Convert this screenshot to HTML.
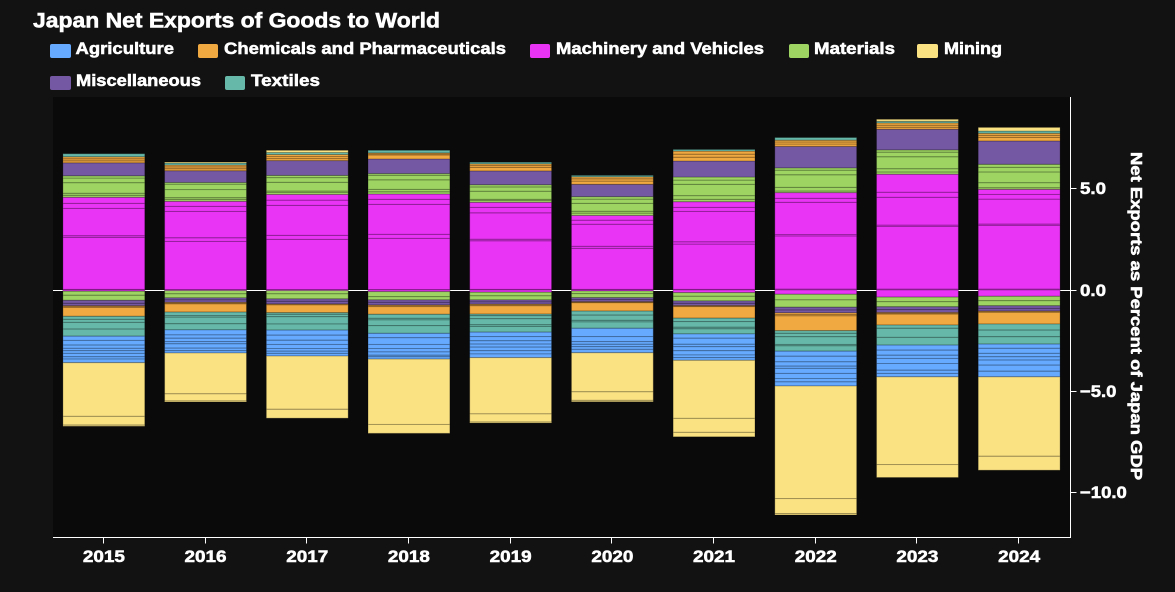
<!DOCTYPE html>
<html lang="en">
<head>
<meta charset="utf-8">
<title>Japan Net Exports of Goods to World</title>
<style>
html,body{margin:0;padding:0;background:#121212;width:1175px;height:592px;overflow:hidden}
svg{display:block}
text{font-family:"Liberation Sans",sans-serif;font-weight:bold;fill:#fff;stroke:#fff;stroke-width:0.55}
</style>
</head>
<body>
<svg id="chart" width="1175" height="592" viewBox="0 0 1175 592">
  <rect x="0" y="0" width="1175" height="592" fill="#121212"/>
  <rect x="53" y="97" width="1017" height="440" fill="#0a0a0a"/>
  <text x="33" y="27.5" font-size="21" textLength="407" lengthAdjust="spacingAndGlyphs">Japan Net Exports of Goods to World</text>
  <g font-size="17">
    <g><rect x="50" y="44" width="21" height="14" rx="2" fill="#66aaff"/><text x="75.5" y="54" textLength="98.5" lengthAdjust="spacingAndGlyphs">Agriculture</text></g>
    <g><rect x="198" y="44" width="20" height="14" rx="2" fill="#f0a840"/><text x="224" y="54" textLength="282" lengthAdjust="spacingAndGlyphs">Chemicals and Pharmaceuticals</text></g>
    <g><rect x="530" y="44" width="20" height="14" rx="2" fill="#e933f5"/><text x="556" y="54" textLength="208" lengthAdjust="spacingAndGlyphs">Machinery and Vehicles</text></g>
    <g><rect x="789" y="44" width="20" height="14" rx="2" fill="#9dd462"/><text x="814" y="54" textLength="81" lengthAdjust="spacingAndGlyphs">Materials</text></g>
    <g><rect x="917" y="44" width="21" height="14" rx="2" fill="#fae283"/><text x="944" y="54" textLength="58" lengthAdjust="spacingAndGlyphs">Mining</text></g>
    <g><rect x="50" y="76" width="21" height="14" rx="2" fill="#7558a3"/><text x="76" y="86" textLength="125" lengthAdjust="spacingAndGlyphs">Miscellaneous</text></g>
    <g><rect x="225" y="76" width="20" height="14" rx="2" fill="#66b8a8"/><text x="251" y="86" textLength="69" lengthAdjust="spacingAndGlyphs">Textiles</text></g>
  </g>
  <text transform="translate(1131,316) rotate(90)" text-anchor="middle" font-size="16" textLength="328" lengthAdjust="spacingAndGlyphs">Net Exports as Percent of Japan GDP</text>
  <line x1="53" x2="1070" y1="290.5" y2="290.5" stroke="#fff" stroke-width="1"/>
  <g id="bars"></g>
  <g id="axes"></g>
</svg>
<script>
const years = [2015, 2016, 2017, 2018, 2019, 2020, 2021, 2022, 2023, 2024];
const yTicks = [5, 0, -5, -10];
const yTickLabels = ["5.0", "0.0", "\u22125.0", "\u221210.0"];

// Surplus products (percent of GDP), stacked upward from zero, one list per year.
const machineryPos = [
  [.03,2.57,.08,1.35,.25,.30],[.02,2.38,.18,1.30,.25,.25],[.02,2.48,.20,1.48,.26,.28],
  [.02,2.53,.20,1.48,.25,.26],[.03,2.40,.08,1.30,.27,.25],[.03,2.03,.10,1.09,.20,.23],
  [.03,2.24,.11,1.50,.20,.28],[.05,2.62,.07,1.59,.20,.28],[.05,3.10,.06,1.37,.25,.89],
  [.05,3.15,.06,1.23,.23,.25]];
const materialsPos = [
  [.10,.10,.52,.23,.11],[.10,.08,.40,.27,.08],[.11,.06,.43,.23,.11],[.11,.12,.47,.23,.08],
  [.09,.06,.40,.21,.11],[.12,.09,.39,.21,.12],[.12,.18,.56,.21,.15],[.08,.18,.62,.23,.11],
  [.11,.16,.59,.23,.11],[.08,.25,.53,.23,.15]];
const miscPos = [[.64],[.58],[.73],[.72],[.68],[.61],[.79],[1.06],[1.02],[1.15]];
const chemicalsPos = [
  [.10,.10,.10],[.10,.09,.09],[.10,.10,.10],[.20,.05,.05],[.18,.09,.08],
  [.16,.11,.10],[.19,.15,.15],[.12,.10,.09],[.10,.10,.11],[.18,.10,.10]];
const textilesPos = [[.15],[.10],[.10],[.13],[.08],[.07],[.08],[.13],[.08],[.11]];
const miningPos = [[],[.05],[.11],[],[],[],[],[],[.10],[.18]];

// Deficit products (magnitude, percent of GDP), stacked downward from zero.
const machineryNeg = [[.06],[.03],[.03],[.08],[.11],[.05],[.13],[.21],[.35],[.31]];
const materialsNeg = [
  [.20,.25],[.16,.20],[.16,.25],[.25,.16],[.18,.20],[.13,.20],[.18,.23],[.28,.36],[.23,.25],[.22,.25]];
const miscNeg = [
  [.15,.12],[.10,.12],[.12,.13],[.12,.13],[.10,.11],[.10,.10],[.12,.11],[.14,.14],[.14,.14],[.13,.13]];
const chemicalsNeg = [
  [.04,.04,.44],[.04,.04,.40],[.03,.02,.38],[.04,.04,.38],[.04,.04,.41],
  [.03,.02,.41],[.03,.02,.57],[.08,.07,.73],[.04,.04,.54],[.03,.03,.58]];
const textilesNeg = [
  [.15,.15,.33,.35],[.17,.08,.33,.30],[.08,.12,.36,.30],[.20,.08,.28,.38],[.08,.15,.30,.08,.28],
  [.20,.26,.08,.31],[.17,.28,.08,.25],[.13,.17,.38,.07,.26],[.16,.45,.38],[.30,.33,.36]];
const agricultureNeg = [
  [.21,.23,.16,.12,.13,.17,.11,.18],[.25,.16,.17,.11,.21,.13,.11],[.25,.25,.21,.20,.13,.11,.13],
  [.22,.33,.20,.17,.16,.08,.11],[.22,.21,.16,.15,.18,.16,.18],[.41,.25,.13,.12,.13,.17],
  [.21,.30,.12,.20,.21,.13,.13],[.25,.28,.21,.11,.25,.25,.17,.20],[.25,.25,.16,.25,.33,.16,.17],
  [.21,.25,.17,.16,.25,.30,.28]];
const miningNeg = [
  [2.65,.43,.06],[2.02,.35,.05],[2.63,.44],[3.23,.44],[2.78,.40,.05],
  [1.93,.42,.07],[2.87,.69,.22],[5.56,.74,.07],[4.33,.64],[3.92,.69]];

const NS = "http://www.w3.org/2000/svg";
const plot = {left: 53, right: 1070.5, top: 97, bottom: 537.5, zeroY: 290, pxPerUnit: 20.25};
const step = (1070 - plot.left) / years.length;
const barWidth = step * 0.805;
function xScale(i) { return plot.left + step * (i + 0.5); }
function yScale(v) { return plot.zeroY - v * plot.pxPerUnit; }

const colors = {agriculture:"#66aaff", chemicals:"#f0a840", machinery:"#e933f5", materials:"#9dd462", mining:"#fae283", misc:"#7558a3", textiles:"#66b8a8"};
const posStack = [["machinery",machineryPos],["materials",materialsPos],["misc",miscPos],["chemicals",chemicalsPos],["textiles",textilesPos],["mining",miningPos]];
const negStack = [["machinery",machineryNeg],["materials",materialsNeg],["misc",miscNeg],["chemicals",chemicalsNeg],["textiles",textilesNeg],["agriculture",agricultureNeg],["mining",miningNeg]];

const barsG = document.getElementById("bars");
const axesG = document.getElementById("axes");

function segment(i, sector, v0, v1) {
  const y0 = yScale(Math.max(v0, v1));
  const y1 = yScale(Math.min(v0, v1));
  const r = document.createElementNS(NS, "rect");
  r.setAttribute("x", xScale(i) - barWidth / 2);
  r.setAttribute("y", y0);
  r.setAttribute("width", barWidth);
  r.setAttribute("height", y1 - y0);
  r.setAttribute("fill", colors[sector]);
  r.setAttribute("stroke", "#000");
  r.setAttribute("stroke-opacity", "0.24");
  r.setAttribute("stroke-width", "1");
  
  
  barsG.appendChild(r);
}

years.forEach(function (yr, i) {
  let up = 0;
  posStack.forEach(function (s) {
    s[1][i].forEach(function (v) { segment(i, s[0], up, up + v); up += v; });
  });
  let down = 0;
  negStack.forEach(function (s) {
    s[1][i].forEach(function (v) { segment(i, s[0], down, down - v); down -= v; });
  });
});

function axisLine(x1, y1, x2, y2, w) {
  const l = document.createElementNS(NS, "line");
  l.setAttribute("x1", x1); l.setAttribute("y1", y1);
  l.setAttribute("x2", x2); l.setAttribute("y2", y2);
  l.setAttribute("stroke", "#fff");
  l.setAttribute("stroke-width", w);
  axesG.appendChild(l);
  return l;
}
const xAxisLine = axisLine(plot.left, plot.bottom, plot.right + 0.5, plot.bottom, 1);


const yAxisLine = axisLine(plot.right, plot.top, plot.right, plot.bottom, 1);



years.forEach(function (yr, i) {
  const x = Math.round(xScale(i)) - 0.5;
  const t = axisLine(x, plot.bottom, x, plot.bottom + 6, 1);
  
  
  const lab = document.createElementNS(NS, "text");
  lab.setAttribute("x", xScale(i));
  lab.setAttribute("y", 562);
  lab.setAttribute("text-anchor", "middle");
  lab.setAttribute("font-size", "17");
  lab.setAttribute("textLength", "42");
  lab.setAttribute("lengthAdjust", "spacingAndGlyphs");
  lab.textContent = yr;
  
  
  axesG.appendChild(lab);
});

yTicks.forEach(function (v, i) {
  const y = Math.floor(yScale(v)) + 0.5;
  const t = axisLine(plot.right, y, plot.right + 6, y, 1);
  
  
  const lab = document.createElementNS(NS, "text");
  lab.setAttribute("x", 1080);
  lab.setAttribute("y", y + 5.5);
  lab.setAttribute("font-size", "17");
  lab.setAttribute("textLength", 5.2 + (yTickLabels[i].length - 1) * 10.4);
  lab.setAttribute("lengthAdjust", "spacingAndGlyphs");
  lab.textContent = yTickLabels[i];
  
  
  axesG.appendChild(lab);
});
</script>
</body>
</html>
